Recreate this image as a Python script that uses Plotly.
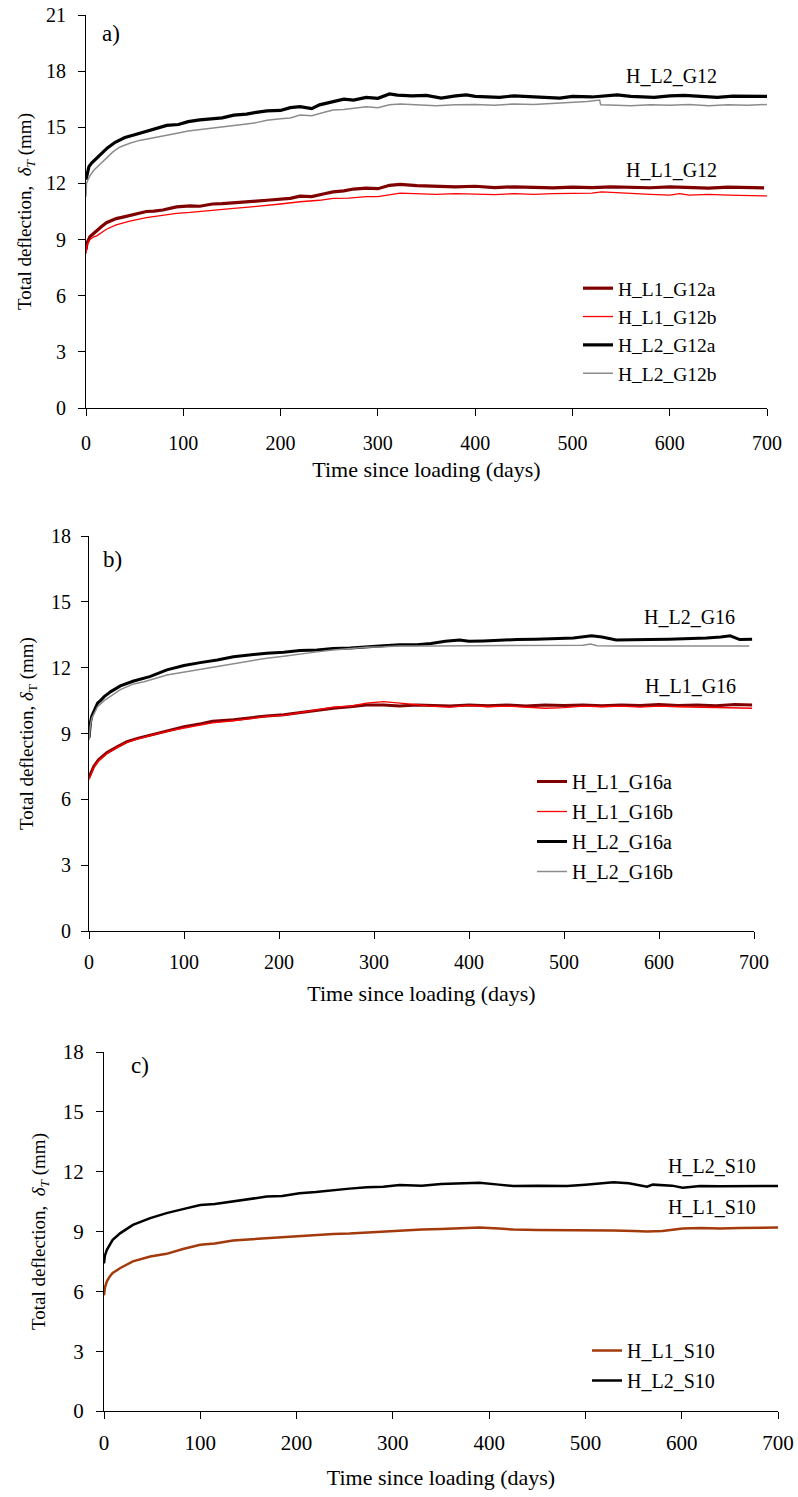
import plotly.graph_objects as go

W, H = 798, 1497
FONT = "Liberation Serif, Times New Roman, serif"

# ---------------- Panel a data ----------------
a_L2a_days = [0, 1, 3, 6, 11, 16, 22, 30, 40, 50, 60, 70, 83, 95, 105, 117, 130, 140, 152, 165, 175, 186, 200, 210, 220, 232, 240, 254, 265, 275, 288, 300, 312, 320, 335, 350, 365, 380, 391, 400, 425, 440, 460, 487, 500, 520, 546, 560, 584, 600, 615, 630, 649, 665, 680, 700]
a_L2a_vals = [12.2, 12.5, 12.9, 13.1, 13.35, 13.6, 13.9, 14.2, 14.45, 14.6, 14.75, 14.9, 15.1, 15.15, 15.3, 15.4, 15.45, 15.5, 15.65, 15.7, 15.8, 15.88, 15.9, 16.05, 16.1, 16.0, 16.2, 16.35, 16.5, 16.45, 16.6, 16.55, 16.78, 16.72, 16.68, 16.7, 16.56, 16.68, 16.73, 16.65, 16.6, 16.68, 16.64, 16.56, 16.65, 16.62, 16.73, 16.65, 16.6, 16.68, 16.7, 16.64, 16.6, 16.66, 16.64, 16.65]

a_L2b_days = [0, 0.5, 2, 4, 8, 11, 16, 21, 28, 35, 45, 55, 66, 75, 83, 95, 105, 117, 130, 140, 152, 165, 175, 186, 200, 210, 220, 232, 245, 254, 265, 275, 288, 300, 312, 323, 340, 360, 380, 400, 420, 440, 460, 480, 500, 515, 528, 529, 545, 560, 580, 600, 620, 640, 660, 680, 700]
a_L2b_vals = [11.3, 12.0, 12.2, 12.4, 12.7, 12.85, 13.1, 13.35, 13.7, 13.95, 14.15, 14.3, 14.42, 14.5, 14.6, 14.7, 14.8, 14.87, 14.95, 15.0, 15.1, 15.18, 15.25, 15.38, 15.45, 15.5, 15.65, 15.62, 15.8, 15.92, 15.95, 16.0, 16.1, 16.05, 16.2, 16.24, 16.2, 16.15, 16.2, 16.22, 16.18, 16.25, 16.22, 16.28, 16.3, 16.38, 16.46, 16.2, 16.18, 16.15, 16.2, 16.18, 16.22, 16.15, 16.2, 16.18, 16.22]

a_L1a_days = [0, 1, 4, 8, 11, 16, 21, 26, 31, 38, 45, 55, 62, 70, 79, 93, 107, 117, 130, 140, 152, 165, 175, 186, 200, 210, 220, 232, 245, 254, 265, 275, 288, 300, 312, 323, 340, 360, 380, 400, 420, 440, 460, 480, 500, 520, 540, 560, 580, 600, 620, 640, 660, 680, 697]
a_L1a_vals = [8.45, 8.8, 9.15, 9.35, 9.5, 9.7, 9.9, 10.0, 10.12, 10.2, 10.3, 10.42, 10.5, 10.52, 10.58, 10.75, 10.8, 10.78, 10.9, 10.92, 10.95, 11.0, 11.05, 11.1, 11.15, 11.2, 11.32, 11.3, 11.45, 11.55, 11.6, 11.7, 11.75, 11.72, 11.9, 11.95, 11.88, 11.85, 11.82, 11.85, 11.78, 11.82, 11.8, 11.76, 11.8, 11.78, 11.82, 11.8, 11.77, 11.82, 11.8, 11.75, 11.8, 11.78, 11.76]

a_L1b_days = [0, 1, 4, 8, 11, 16, 21, 31, 45, 62, 79, 93, 107, 117, 130, 152, 170, 186, 200, 220, 240, 254, 270, 288, 300, 323, 340, 360, 380, 400, 420, 440, 460, 480, 500, 520, 530, 540, 560, 580, 600, 610, 620, 640, 660, 680, 700]
a_L1b_vals = [8.25, 8.7, 9.0, 9.15, 9.2, 9.4, 9.55, 9.78, 9.99, 10.17, 10.28, 10.4, 10.45, 10.49, 10.55, 10.67, 10.75, 10.85, 10.9, 11.02, 11.1, 11.2, 11.22, 11.29, 11.3, 11.48, 11.45, 11.42, 11.45, 11.42, 11.4, 11.45, 11.42, 11.45, 11.47, 11.48, 11.55, 11.52, 11.45, 11.42, 11.38, 11.45, 11.38, 11.42, 11.38, 11.35, 11.33]

# ---------------- Panel b data ----------------
b_L2a_days = [0, 0.5, 1.5, 3, 5, 9, 12, 16, 23, 33, 47, 64, 82, 100, 117, 135, 152, 170, 187, 205, 222, 240, 257, 275, 292, 310, 327, 345, 360, 375, 390, 400, 415, 433, 450, 470, 490, 510, 529, 540, 555, 573, 590, 610, 630, 650, 665, 675, 685, 698]
b_L2a_vals = [8.8, 9.2, 9.5, 9.8, 10.0, 10.38, 10.5, 10.68, 10.91, 11.17, 11.39, 11.59, 11.9, 12.1, 12.23, 12.35, 12.5, 12.6, 12.66, 12.7, 12.78, 12.8, 12.87, 12.9, 12.96, 13.0, 13.04, 13.05, 13.1, 13.2, 13.26, 13.2, 13.22, 13.26, 13.28, 13.3, 13.32, 13.35, 13.45, 13.4, 13.26, 13.26, 13.28, 13.3, 13.32, 13.35, 13.4, 13.45, 13.28, 13.3]

b_L2b_days = [0, 0.5, 1.5, 3, 5, 9, 16, 25, 33, 47, 58, 82, 100, 117, 135, 152, 170, 187, 205, 222, 240, 257, 275, 292, 310, 327, 360, 400, 450, 500, 520, 528, 535, 560, 600, 650, 695]
b_L2b_vals = [8.7, 9.1, 9.4, 9.7, 9.9, 10.22, 10.5, 10.76, 11.0, 11.26, 11.36, 11.67, 11.8, 11.93, 12.05, 12.17, 12.3, 12.43, 12.52, 12.63, 12.72, 12.81, 12.88, 12.93, 12.95, 12.99, 12.99, 13.0, 13.0, 13.0, 13.02, 13.08, 13.0, 12.99, 13.0, 12.99, 12.99]

b_L1_days = [0, 2, 5, 10, 19, 30, 40, 51, 65, 82, 100, 118, 130, 152, 170, 187, 205, 222, 240, 257, 275, 292, 310, 327, 345, 360, 380, 400, 420, 440, 460, 480, 500, 520, 540, 560, 580, 600, 620, 640, 660, 680, 698]
b_L1a_vals = [7.0, 7.2, 7.5, 7.8, 8.13, 8.4, 8.63, 8.78, 8.93, 9.13, 9.31, 9.45, 9.56, 9.63, 9.72, 9.8, 9.85, 9.95, 10.08, 10.15, 10.22, 10.3, 10.3, 10.25, 10.3, 10.28, 10.25, 10.3, 10.27, 10.3, 10.25, 10.3, 10.28, 10.3, 10.26, 10.3, 10.28, 10.32, 10.28, 10.3, 10.27, 10.32, 10.3]
b_L1b_vals = [6.9, 7.1, 7.45, 7.75, 8.1, 8.38, 8.6, 8.75, 8.9, 9.1, 9.25, 9.38, 9.48, 9.58, 9.7, 9.78, 9.83, 9.95, 10.1, 10.2, 10.25, 10.38, 10.45, 10.4, 10.32, 10.25, 10.2, 10.28, 10.22, 10.25, 10.2, 10.15, 10.18, 10.25, 10.22, 10.25, 10.2, 10.25, 10.22, 10.2, 10.18, 10.15, 10.15]

# ---------------- Panel c data ----------------
c_L2_days = [0, 1, 3, 6, 9, 17, 30, 48, 65, 82, 100, 115, 134, 150, 169, 185, 203, 220, 238, 255, 273, 290, 307, 330, 350, 370, 390, 410, 425, 450, 481, 500, 515, 529, 545, 564, 570, 590, 601, 619, 640, 660, 680, 700]
c_L2_vals = [7.4, 7.8, 8.08, 8.35, 8.58, 8.92, 9.33, 9.67, 9.92, 10.12, 10.33, 10.38, 10.5, 10.6, 10.75, 10.78, 10.92, 10.98, 11.08, 11.15, 11.22, 11.25, 11.33, 11.3, 11.38, 11.4, 11.45, 11.35, 11.28, 11.3, 11.28, 11.35, 11.42, 11.47, 11.42, 11.25, 11.35, 11.3, 11.2, 11.28, 11.27, 11.28, 11.28, 11.28]

c_L1_days = [0, 1, 3, 6, 9, 17, 30, 48, 65, 82, 100, 115, 134, 150, 169, 185, 203, 220, 238, 255, 273, 290, 307, 330, 350, 370, 390, 410, 425, 450, 481, 500, 529, 550, 564, 580, 601, 620, 640, 660, 680, 700]
c_L1_vals = [5.8, 6.2, 6.5, 6.75, 6.92, 7.17, 7.5, 7.75, 7.88, 8.12, 8.33, 8.4, 8.55, 8.6, 8.67, 8.7, 8.78, 8.8, 8.88, 8.9, 8.95, 8.98, 9.05, 9.1, 9.12, 9.15, 9.2, 9.15, 9.1, 9.08, 9.08, 9.06, 9.05, 9.02, 9.0, 9.02, 9.15, 9.18, 9.15, 9.17, 9.2, 9.2]

x_ticks = [0, 100, 200, 300, 400, 500, 600, 700]

DARKRED = "#800000"
RED = "#FF0000"
BLACK = "#000000"
GREY = "#8C8C8C"
BROWN = "#A33A0C"

fig = go.Figure()

def add(x, y, name, color, width, xa, ya, legend):
    fig.add_trace(go.Scatter(x=x, y=y, name=name, mode="lines",
                             line=dict(color=color, width=width),
                             xaxis=xa, yaxis=ya, legend=legend,
                             legendgroup=name))

add(a_L1a_days, a_L1a_vals, "H_L1_G12a", DARKRED, 3.2, "x", "y", "legend")
add(a_L1b_days, a_L1b_vals, "H_L1_G12b", RED, 1.3, "x", "y", "legend")
add(a_L2a_days, a_L2a_vals, "H_L2_G12a", BLACK, 3.2, "x", "y", "legend")
add(a_L2b_days, a_L2b_vals, "H_L2_G12b", GREY, 1.5, "x", "y", "legend")

add(b_L1_days, b_L1a_vals, "H_L1_G16a", DARKRED, 3.0, "x2", "y2", "legend2")
add(b_L1_days, b_L1b_vals, "H_L1_G16b", RED, 1.3, "x2", "y2", "legend2")
add(b_L2a_days, b_L2a_vals, "H_L2_G16a", BLACK, 3.0, "x2", "y2", "legend2")
add(b_L2b_days, b_L2b_vals, "H_L2_G16b", GREY, 1.5, "x2", "y2", "legend2")

add(c_L1_days, c_L1_vals, "H_L1_S10", BROWN, 2.5, "x3", "y3", "legend3")
add(c_L2_days, c_L2_vals, "H_L2_S10", BLACK, 2.5, "x3", "y3", "legend3")


def px_x(x):
    return x / W


def px_y(y):
    return 1 - y / H


titlefont = dict(family=FONT, size=22, color="black")
ytitlefont = dict(family=FONT, size=19, color="black")


def xaxis(dom, anchor, standoff, tls, tsize=20):
    return dict(domain=dom, anchor=anchor, range=[0, 700], tickvals=x_ticks,
                showline=True, linecolor="black", linewidth=1,
                ticks="outside", ticklen=7, tickcolor="black", tickwidth=1,
                showgrid=False, zeroline=False, automargin=False,
                tickfont=dict(family=FONT, size=tsize, color="black"),
                ticklabelstandoff=tls,
                title=dict(text="Time since loading (days)", font=titlefont,
                           standoff=standoff))


def yaxis(dom, anchor, top, title, standoff, tls, tsize=20):
    return dict(domain=dom, anchor=anchor, range=[0, top], dtick=3, tick0=0,
                showline=True, linecolor="black", linewidth=1,
                ticks="outside", ticklen=7, tickcolor="black", tickwidth=1,
                showgrid=False, zeroline=False, automargin=False,
                tickfont=dict(family=FONT, size=tsize, color="black"),
                ticklabelstandoff=tls,
                title=dict(text=title, font=ytitlefont, standoff=standoff))


yt_it = "Total deflection,  <i>δ<sub>T</sub></i> (mm)"
yt_up = "Total deflection, <i>δ</i><sub>T</sub> (mm)"

legfont = dict(family=FONT, size=20, color="black")

fig.update_layout(
    width=W, height=H,
    margin=dict(l=0, r=0, t=0, b=0, autoexpand=False),
    paper_bgcolor="white", plot_bgcolor="white",
    font=dict(family=FONT, color="black"),
    xaxis=xaxis([px_x(86), px_x(767)], "y", 8, 10),
    yaxis=yaxis([px_y(408), px_y(15)], "x", 21, yt_it, 9, 8),
    xaxis2=xaxis([px_x(89), px_x(754)], "y2", 13, 6),
    yaxis2=yaxis([px_y(931), px_y(536)], "x2", 18, yt_up, 12, 6),
    xaxis3=xaxis([px_x(104), px_x(778)], "y3", 15, 6, 21),
    yaxis3=yaxis([px_y(1411), px_y(1052)], "x3", 18, yt_it, 12, 8, 21),
    legend=dict(x=px_x(578), y=px_y(269), xanchor="left", yanchor="top",
                font=dict(family=FONT, size=19.5, color="black"),
                bgcolor="rgba(0,0,0,0)", traceorder="grouped", tracegroupgap=0),
    legend2=dict(x=px_x(532), y=px_y(762), xanchor="left", yanchor="top",
                 font=legfont,
                 bgcolor="rgba(0,0,0,0)", traceorder="grouped", tracegroupgap=1),
    legend3=dict(x=px_x(587), y=px_y(1331), xanchor="left", yanchor="top",
                 font=legfont,
                 bgcolor="rgba(0,0,0,0)", traceorder="grouped", tracegroupgap=1),
    showlegend=True,
)

labels = [
    ("a)", 111, 33, 23), ("b)", 112, 559, 23), ("c)", 140, 1065, 23),
    ("H_L2_G12", 671, 76, 20), ("H_L1_G12", 671, 170, 20),
    ("H_L2_G16", 689, 617, 20), ("H_L1_G16", 690, 686, 20),
    ("H_L2_S10", 712, 1166, 20), ("H_L1_S10", 712, 1207, 20),
]
for text, x, y, s in labels:
    fig.add_annotation(text=text, xref="paper", yref="paper",
                       x=px_x(x), y=px_y(y), xanchor="center", yanchor="middle",
                       showarrow=False, font=dict(family=FONT, size=s, color="black"))

fig.write_html("out.html")
